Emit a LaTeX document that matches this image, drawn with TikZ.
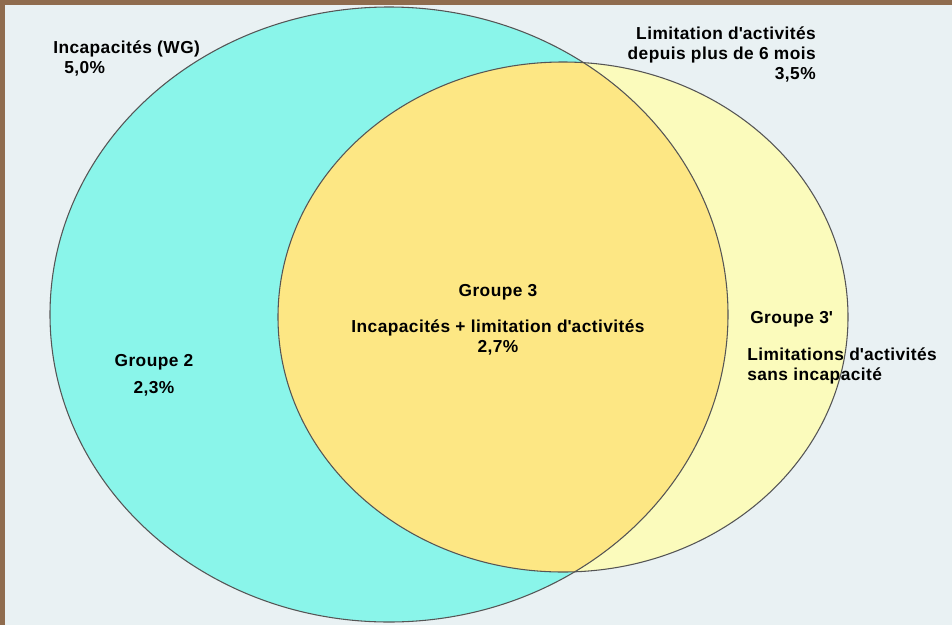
\documentclass[tikz,border=0pt]{standalone}
\usepackage{fontspec}
\setmainfont{Liberation Sans}[LetterSpace=2.5]
\usepackage{tikz}

\definecolor{frameBrown}{HTML}{8F6C4E}
\definecolor{paperBg}{HTML}{E9F1F3}
\definecolor{wgCyan}{HTML}{8AF5EA}
\definecolor{limYellow}{HTML}{FBFBBC}
\definecolor{bothYellow}{HTML}{FDE784}
\definecolor{rimGray}{HTML}{555555}

\tikzset{
  lbl/.style={inner sep=0pt, font=\fontsize{13}{15}\selectfont\bfseries, align=left},
  rim/.style={draw=rimGray, line width=0.8pt},
}

\begin{document}
\begin{tikzpicture}[x=0.75pt,y=0.75pt,yscale=-1,xscale=1]
	%frame and background
	\fill[frameBrown] (0,0) rectangle (952,625);
	\fill[paperBg] (5,5) rectangle (952,625);
	\useasboundingbox (0,0) rectangle (952,625);

	%Ellipse [Incapacites WG]
	\fill[wgCyan] (389,314.5) ellipse [x radius=339, y radius=307.5];
	%Ellipse [Limitation]
	\fill[limYellow] (563,317) ellipse [x radius=285, y radius=255];
	%Overlap
	\begin{scope}
		\clip (389,314.5) ellipse [x radius=339, y radius=307.5];
		\fill[bothYellow] (563,317) ellipse [x radius=285, y radius=255];
	\end{scope}
	\draw[rim] (389,314.5) ellipse [x radius=339, y radius=307.5];
	\draw[rim] (563,317) ellipse [x radius=285, y radius=255];

	% Text Node (base = last line)
	\node (wg) [lbl, anchor=base west] at (53,73) {Incapacités (WG)\\\hspace{8.25pt}5,0\%};
	% Text Node
	\node (lim) [lbl, anchor=base east, align=right] at (816,79) {Limitation d\textquotesingle activités\\depuis plus de 6 mois\\3,5\%};
	% Text Node
	\node (g2) [lbl, anchor=base, align=center] at (154,393) {Groupe 2\\[5pt]2,3\%};
	% Text Node
	\node (g3) [lbl, anchor=base, align=center] at (498,296) {Groupe 3};
	% Text Node
	\node (g3txt) [lbl, anchor=base, align=center] at (498,352) {Incapacités + limitation d\textquotesingle activités\\2,7\%};
	% Text Node
	\node (g3p) [lbl, anchor=base west] at (750,323) {Groupe 3\textquotesingle};
	% Text Node
	\node (g3ptxt) [lbl, anchor=base west] at (747,380) {Limitations d\textquotesingle activités\\sans incapacité};
\end{tikzpicture}
\end{document}
